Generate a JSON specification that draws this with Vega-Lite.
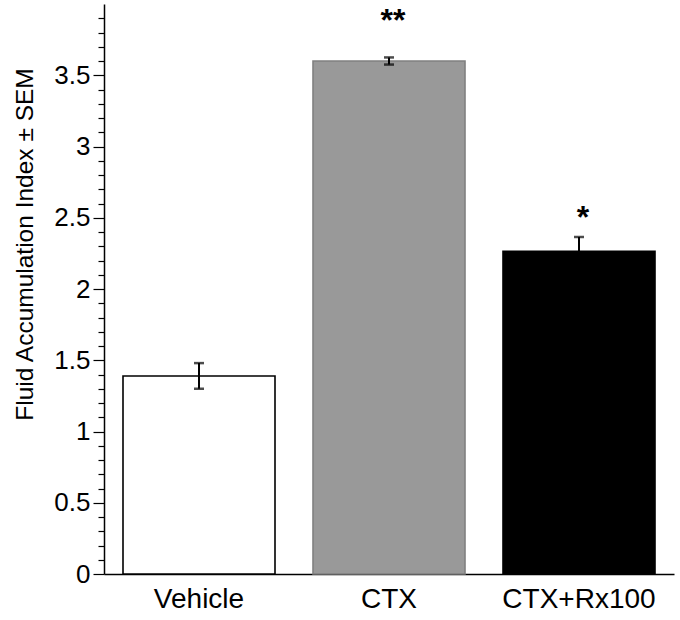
{
  "$schema": "https://vega.github.io/schema/vega-lite/v6.json",
  "width": 570,
  "height": 570,
  "autosize": {"type": "none"},
  "padding": {"left": 104, "top": 4, "right": 6, "bottom": 46},
  "background": "white",
  "config": {
    "view": {"stroke": null},
    "font": "Liberation Sans",
    "axisX": {
      "labelFontSize": 28,
      "labelColor": "black",
      "labelPadding": 11,
      "ticks": false,
      "domainColor": "black",
      "domainWidth": 1.5,
      "grid": false
    }
  },
  "data": {
    "values": [
      {"group": "Vehicle", "mean": 1.39, "sem": 0.09, "sig": "", "sig_y": 0},
      {"group": "CTX", "mean": 3.60, "sem": 0.025, "sig": "**", "sig_y": 3.88},
      {"group": "CTX+Rx100", "mean": 2.265, "sem": 0.1, "sig": "*", "sig_y": 2.495}
    ]
  },
  "transform": [
    {"calculate": "datum.mean - datum.sem", "as": "lo"},
    {"calculate": "datum.mean + datum.sem", "as": "hi"}
  ],
  "encoding": {
    "x": {
      "field": "group",
      "type": "nominal",
      "sort": ["Vehicle", "CTX", "CTX+Rx100"],
      "scale": {"paddingInner": 0.2, "paddingOuter": 0.1},
      "axis": {"title": null, "labelAngle": 0}
    }
  },
  "resolve": {"axis": {"y": "independent"}},
  "layer": [
    {
      "mark": {"type": "bar", "strokeWidth": 1.6},
      "encoding": {
        "y": {
          "field": "mean",
          "type": "quantitative",
          "scale": {"domain": [0, 4], "nice": false},
          "axis": {
            "orient": "left",
            "title": "Fluid Accumulation Index ± SEM",
            "titleFontSize": 24.5,
            "titleFontWeight": "normal",
            "titleColor": "black",
            "titlePadding": 16,
            "titleY": 240,
            "values": [0, 0.5, 1, 1.5, 2, 2.5, 3, 3.5],
            "format": "",
            "tickSize": 11,
            "tickColor": "black",
            "tickWidth": 1.2,
            "labelFontSize": 26,
            "labelColor": "black",
            "labelPadding": 3,
            "labelOverlap": false,
            "labelFlush": false,
            "grid": false,
            "domainColor": "black",
            "domainWidth": 1.5
          }
        },
        "fill": {
          "field": "group",
          "type": "nominal",
          "scale": {"domain": ["Vehicle", "CTX", "CTX+Rx100"], "range": ["#ffffff", "#999999", "#000000"]},
          "legend": null
        },
        "stroke": {
          "field": "group",
          "type": "nominal",
          "scale": {"domain": ["Vehicle", "CTX", "CTX+Rx100"], "range": ["#000000", "#808080", "#000000"]},
          "legend": null
        }
      }
    },
    {
      "mark": {"type": "rule", "color": "black", "strokeWidth": 2},
      "encoding": {
        "y": {
          "field": "lo",
          "type": "quantitative",
          "axis": {
            "orient": "left",
            "title": null,
            "labels": false,
            "domain": false,
            "grid": false,
            "values": [0.1,0.2,0.3,0.4,0.6,0.7,0.8,0.9,1.1,1.2,1.3,1.4,1.6,1.7,1.8,1.9,2.1,2.2,2.3,2.4,2.6,2.7,2.8,2.9,3.1,3.2,3.3,3.4,3.6,3.7,3.8,3.9],
            "tickSize": 6,
            "tickColor": "black",
            "tickWidth": 1.2
          }
        },
        "y2": {"field": "hi"}
      }
    },
    {
      "mark": {"type": "tick", "color": "black", "thickness": 2.5, "size": 10},
      "encoding": {"y": {"field": "lo", "type": "quantitative", "axis": null}}
    },
    {
      "mark": {"type": "tick", "color": "black", "thickness": 2.5, "size": 10},
      "encoding": {"y": {"field": "hi", "type": "quantitative", "axis": null}}
    },
    {
      "mark": {"type": "text", "fontSize": 32, "fontWeight": "bold", "color": "black", "baseline": "middle", "dx": 4},
      "encoding": {
        "y": {"field": "sig_y", "type": "quantitative", "axis": null},
        "text": {"field": "sig"}
      }
    }
  ]
}
